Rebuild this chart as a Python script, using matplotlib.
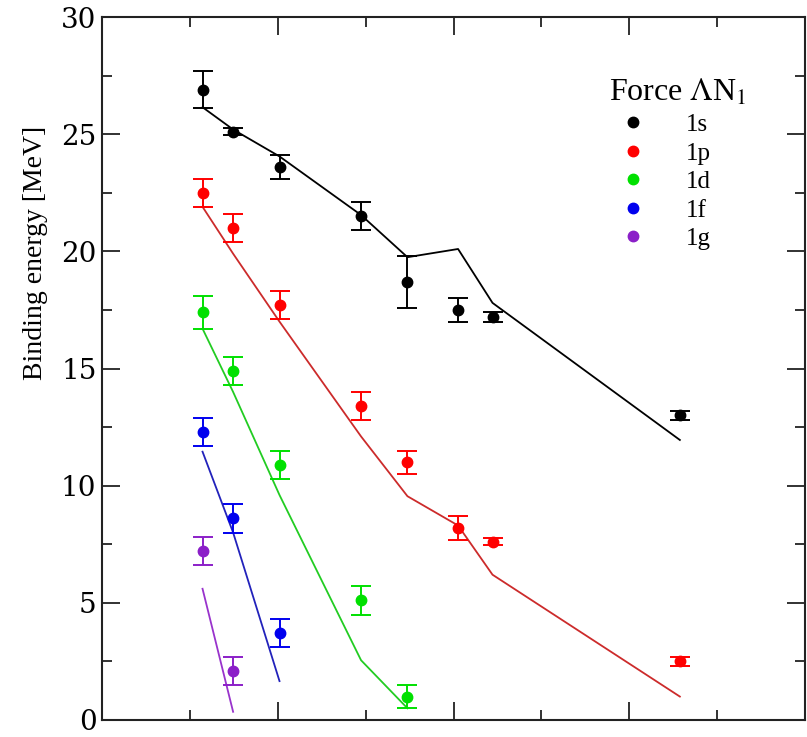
import matplotlib
matplotlib.use("Agg")
import matplotlib.pyplot as plt
from matplotlib.lines import Line2D
from matplotlib.ticker import MultipleLocator

# x = A_core^(-2/3) for the hypernuclei (207, 138, 88, 50, 39, 31, 27, 15)
x_all = [0.0286, 0.0373, 0.0505, 0.0737, 0.0869, 0.1013, 0.1111, 0.1644]

# experimental binding energies [MeV] and errors
exp_1s = [26.9, 25.1, 23.6, 21.5, 18.7, 17.5, 17.2, 13.0]
err_1s = [0.8, 0.15, 0.5, 0.6, 1.1, 0.5, 0.2, 0.2]
exp_1p = [22.5, 21.0, 17.7, 13.4, 11.0, 8.2, 7.6, 2.5]
err_1p = [0.6, 0.6, 0.6, 0.6, 0.5, 0.5, 0.15, 0.2]
exp_1d = [17.4, 14.9, 10.9, 5.1, 1.0]
err_1d = [0.7, 0.6, 0.6, 0.6, 0.5]
exp_1f = [12.3, 8.6, 3.7]
err_1f = [0.6, 0.6, 0.6]
exp_1g = [7.2, 2.1]
err_1g = [0.6, 0.6]

# calculated (force Lambda N_1)
th_1s = [26.15, 25.2, 24.05, 21.55, 19.75, 20.1, 17.8, 11.95]
th_1p = [21.9, 19.9, 17.0, 12.1, 9.55, 8.3, 6.2, 1.0]
th_1d = [16.7, 14.0, 9.6, 2.55, 0.5]
th_1f = [11.45, 8.0, 1.66]
th_1g = [5.6, 0.35]

labels = ["1s", "1p", "1d", "1f", "1g"]
pt_colors = ["#000000", "#ff0000", "#00e000", "#0000ee", "#8b1fc8"]
ln_colors = ["#000000", "#cc2b2b", "#22cc22", "#2222bb", "#9933cc"]

plt.rcParams["font.family"] = ["Liberation Serif", "DejaVu Serif"]
plt.rcParams["mathtext.fontset"] = "stix"

fig = plt.figure(figsize=(8.07, 7.37), dpi=100)
ax = fig.add_axes([102 / 807, 17 / 737, 703 / 807, 703 / 737])

exps = [exp_1s, exp_1p, exp_1d, exp_1f, exp_1g]
errs = [err_1s, err_1p, err_1d, err_1f, err_1g]
ths = [th_1s, th_1p, th_1d, th_1f, th_1g]

for e, er, t, pc, lc in zip(exps, errs, ths, pt_colors, ln_colors):
    xs = x_all[:len(e)]
    ax.plot(xs, t, color=lc, lw=1.3, zorder=2)
    ax.errorbar(xs, e, yerr=er, fmt="o", color=pc, ms=7.5, capsize=7,
                elinewidth=1.4, capthick=1.4, zorder=3)

ax.set_xlim(0, 0.2)
ax.set_ylim(0, 30)
ax.xaxis.set_major_locator(MultipleLocator(0.05))
ax.xaxis.set_minor_locator(MultipleLocator(0.025))
ax.yaxis.set_major_locator(MultipleLocator(5))
ax.yaxis.set_minor_locator(MultipleLocator(2.5))
ax.tick_params(which="both", direction="in", top=True, right=True,
               labelbottom=False, width=1.3, color="#222222")
ax.tick_params(which="major", length=13)
ax.tick_params(which="minor", length=7)
ax.tick_params(axis="y", labelsize=20, pad=4)
for lab in ax.get_yticklabels():
    lab.set_family("DejaVu Serif")
for s in ax.spines.values():
    s.set_linewidth(1.5)
    s.set_color("#222222")

ax.set_ylabel("Binding energy [MeV]", fontsize=20)
ax.yaxis.set_label_coords(-0.077, 0.665)

handles = [Line2D([], [], ls="none", marker="o", ms=7.5, color=c) for c in pt_colors]
leg = ax.legend(handles, labels, title=r"Force $\Lambda$N$_1$", frameon=False,
                loc="upper left", bbox_to_anchor=(0.696, 0.939), fontsize=18,
                title_fontsize=23, handlelength=1.95, handletextpad=1.15,
                labelspacing=0.24, borderpad=0.2)
leg._legend_box.align = "left"

fig.savefig("out.png", dpi=100)
